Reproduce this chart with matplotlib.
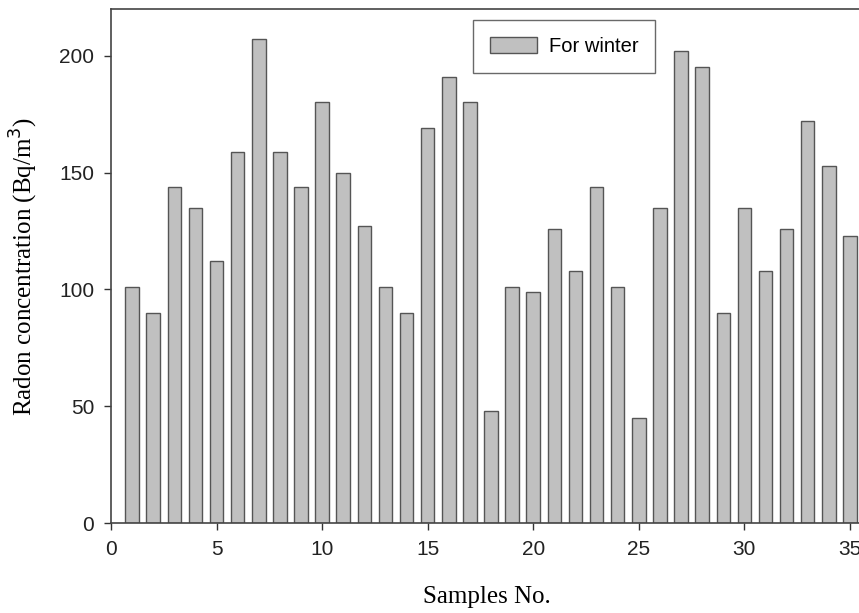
import matplotlib
matplotlib.use("Agg")
import matplotlib.pyplot as plt

# radon concentration per sample, winter campaign (Bq/m3)
samples = list(range(1, 36))
winter = [101, 90, 144, 135, 112, 159, 207, 159, 144, 180,
          150, 127, 101, 90, 169, 191, 180, 48, 101, 99,
          126, 108, 144, 101, 45, 135, 202, 195, 90, 135,
          108, 126, 172, 153, 123]
x_ticks = [0, 5, 10, 15, 20, 25, 30, 35]
y_ticks = [0, 50, 100, 150, 200]

SANS = "Liberation Sans"
SERIF = "Liberation Serif"

fig = plt.figure(figsize=(8.59, 6.13), dpi=100)
ax = fig.add_axes([0.1292, 0.1468, 0.875, 0.8385])

ax.bar(samples, winter, width=0.64, color="#c0c0c0", edgecolor="#555555",
       linewidth=1.0, label="For winter")

ax.set_xlim(0, 35.6)
ax.set_ylim(0, 220)
ax.set_xticks(x_ticks)
ax.set_yticks(y_ticks)
ax.tick_params(direction="out", length=5, width=1, colors="#333333",
               labelsize=15, pad=7)
for lab in ax.get_xticklabels() + ax.get_yticklabels():
    lab.set_fontfamily(SANS)
    lab.set_color("#222222")

for sp in ax.spines.values():
    sp.set_color("#444444")
    sp.set_linewidth(1.2)

ax.set_xlabel("Samples No.", fontfamily=SERIF, fontsize=18, labelpad=20)
ax.set_ylabel("Radon concentration (Bq/m$^3$)", fontfamily=SERIF,
              fontsize=18, labelpad=14)

leg = ax.legend(loc="upper center", bbox_to_anchor=(0.603, 0.979),
                prop={"family": SANS, "size": 14.5}, fancybox=False,
                edgecolor="#444444", handlelength=2.3, handleheight=0.8,
                borderpad=0.85, handletextpad=0.6, borderaxespad=0)
leg.get_frame().set_linewidth(1.0)

fig.savefig("out.png", dpi=100)
